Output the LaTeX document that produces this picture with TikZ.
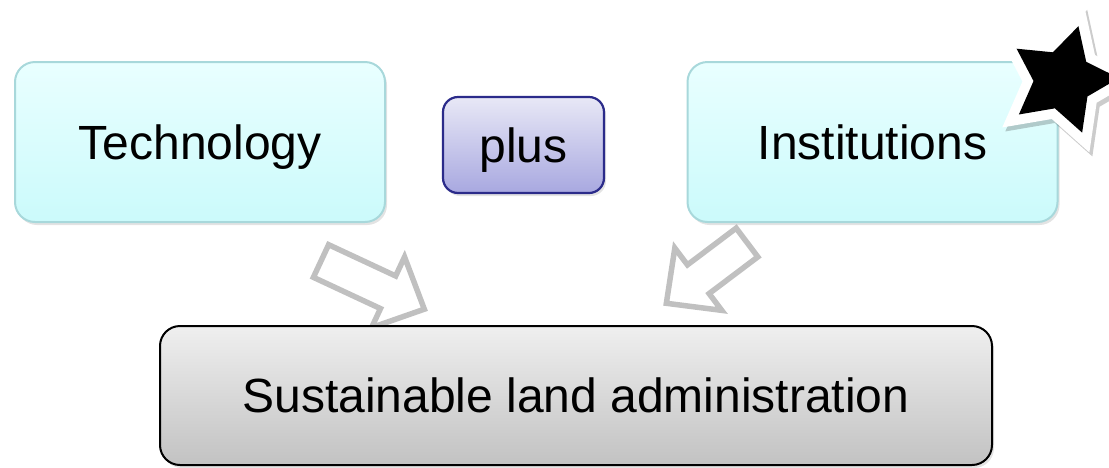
\documentclass[tikz,border=0pt]{standalone}
\usepackage{fontspec}
\setmainfont{Liberation Sans}
\usetikzlibrary{shapes.geometric,shadows}

\definecolor{cyantop}{HTML}{E9FFFF}
\definecolor{cyanbot}{HTML}{CBFAFB}
\definecolor{cyanline}{HTML}{A8D8DB}
\definecolor{plustop}{HTML}{E8E8F6}
\definecolor{plusbot}{HTML}{A8A8E0}
\definecolor{plusline}{HTML}{2B2B8A}
\definecolor{greytop}{HTML}{EFEFEF}
\definecolor{greybot}{HTML}{C2C2C2}
\definecolor{arrowgrey}{HTML}{C0C0C0}

\tikzset{
  box/.style={rounded corners=20pt, line width=2pt, inner sep=0pt,
    text height=34.4pt, text depth=0pt, font=\fontsize{48}{57}\selectfont,
    drop shadow={shadow xshift=2pt, shadow yshift=-3pt, opacity=0.22}},
  cyanbox/.style={box, draw=cyanline, top color=cyantop, bottom color=cyanbot,
    minimum width=370pt, minimum height=160pt},
  arrowline/.style={draw=arrowgrey, fill=white, line width=5.5pt},
  pics/blockarrow/.style={code={
    \draw[arrowline] (0,-18) -- (#1-40,-18) -- (#1-40,-39) -- (#1,0)
      -- (#1-40,39) -- (#1-40,18) -- (0,18) -- cycle;
  }}
}

\begin{document}
\begin{tikzpicture}[x=1pt, y=-1pt]
\useasboundingbox (0,0) rectangle (1109,467);

% Block arrows (drawn first, the boxes cover their ends)
\coordinate (lefttail) at (321,261);
\coordinate (righttail) at (747,242.5);
\pic[rotate=-25] at (lefttail) {blockarrow=114};
\pic[rotate=-143] at (righttail) {blockarrow=101};

% Top row
\node[cyanbox] (tech) at (200,142) {Technology};
\node[cyanbox] (inst) at (872.5,142) {Institutions};
\node[box, rounded corners=15pt, line width=2.2pt, draw=plusline,
  top color=plustop, bottom color=plusbot,
  minimum width=161pt, minimum height=96pt] (plus) at (523.5,145) {plus};

% Star on the corner
\node[star, star points=5, star point ratio=1.9, minimum size=112pt,
  inner sep=0pt, rotate=-16, fill=black,
  general shadow={shadow xshift=3pt, shadow yshift=-4pt, draw=black,
    fill=black, line width=20pt, opacity=0.2},
  preaction={draw=white, line width=20pt}] (star) at (1063,80) {};

% Bottom box
\node[box, draw=black, top color=greytop, bottom color=greybot,
  minimum width=832pt, minimum height=139pt] (sad) at (576,395.5)
  {Sustainable land administration};

\end{tikzpicture}
\end{document}
